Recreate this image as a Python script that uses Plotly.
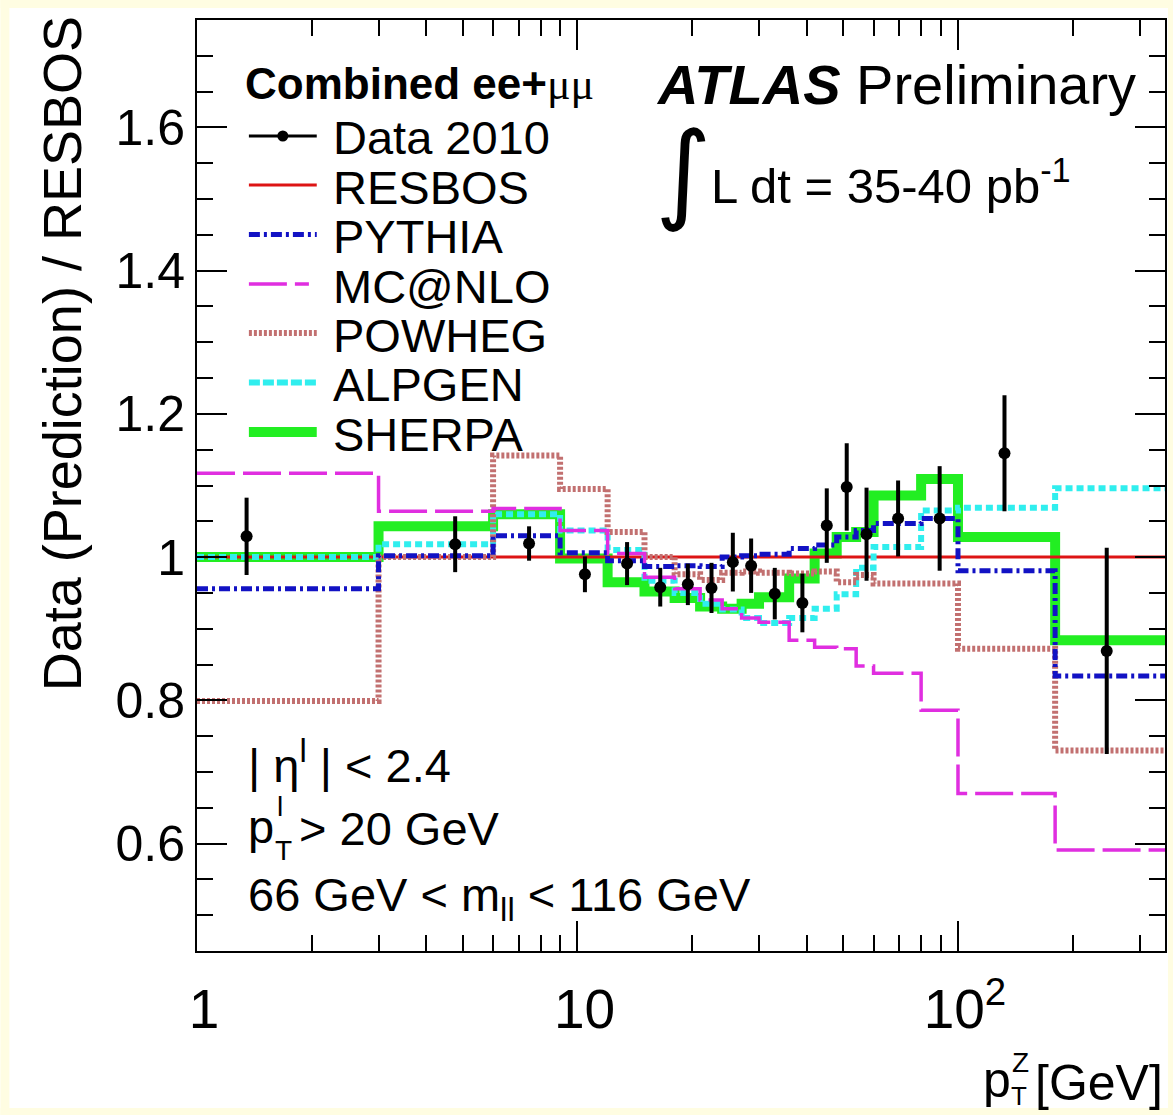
import numpy as np
import plotly.graph_objects as go

# ---------------- data ----------------
bin_edges = [1, 3, 6, 9, 12, 15, 18, 21, 24, 27, 30, 36, 42, 48, 54, 60, 80, 100, 180, 350]

data_x = [1.35, 4.77, 7.46, 10.46, 13.5, 16.5, 19.5, 22.5, 25.6, 28.6, 33, 39, 45.2, 51, 57.5, 69.6, 89.5, 132.5, 246]
data_y = [1.029, 1.018, 1.019, 0.976, 0.991, 0.958, 0.962, 0.957, 0.993, 0.988, 0.949, 0.936, 1.044, 1.098, 1.032, 1.054, 1.054, 1.145, 0.869]
data_err = [0.054, 0.039, 0.024, 0.025, 0.030, 0.027, 0.029, 0.035, 0.041, 0.038, 0.036, 0.041, 0.052, 0.061, 0.065, 0.053, 0.073, 0.081, 0.144]

resbos = [1.0] * 19
pythia = [0.956, 1.002, 1.030, 1.006, 0.995, 0.987, 0.988, 0.987, 1.000, 1.002, 1.004, 1.012, 1.017, 1.028, 1.037, 1.047, 1.054, 0.981, 0.834]
mcatnlo = [1.117, 1.064, 1.068, 1.037, 1.005, 0.972, 0.956, 0.940, 0.928, 0.915, 0.909, 0.884, 0.874, 0.872, 0.848, 0.838, 0.786, 0.670, 0.591]
powheg = [0.799, 1.000, 1.142, 1.095, 1.035, 1.000, 0.976, 0.968, 0.978, 0.980, 0.978, 0.977, 0.980, 0.965, 0.975, 0.963, 0.963, 0.872, 0.730]
alpgen = [1.000, 1.018, 1.060, 1.037, 1.010, 0.967, 0.950, 0.935, 0.927, 0.915, 0.908, 0.915, 0.928, 0.948, 0.985, 1.014, 1.065, 1.069, 1.096]
sherpa = [1.000, 1.043, 1.060, 0.998, 0.965, 0.952, 0.943, 0.931, 0.928, 0.935, 0.944, 0.970, 1.005, 1.028, 1.035, 1.086, 1.109, 1.028, 0.884]

y_tickvals = [0.6, 0.8, 1.0, 1.2, 1.4, 1.6]
y_ticktext = ["0.6", "0.8", "1", "1.2", "1.4", "1.6"]
x_tickvals = [1, 10, 100]
x_ticktext = ["1", "10", "10<sup>2</sup>"]
x_minor = [2, 3, 4, 5, 6, 7, 8, 9, 20, 30, 40, 50, 60, 70, 80, 90, 200, 300]

# ---------------- style ----------------
RED = "#DD1414"
BLUE = "#1212C4"
MAGENTA = "#E02EE0"
BROWN = "#C27070"
CYAN = "#30EEEE"
GREEN = "#22EE22"
FONT = "Liberation Sans"

W, H = 1175, 1115
L, R, T, B = 197, 8, 20, 164
PW = W - L - R
PH = H - T - B


def px(xp):
    return (xp - L) / PW


def py(yp):
    return (T + PH - yp) / PH


def step(vals):
    return list(vals) + [vals[-1]]


fig = go.Figure()

series = [
    ("SHERPA", sherpa, GREEN, 10, "solid"),
    ("RESBOS", resbos, RED, 3, "solid"),
    ("ALPGEN", alpgen, CYAN, 6, "7px,4px"),
    ("POWHEG", powheg, BROWN, 6, "3px,2px"),
    ("MC@NLO", mcatnlo, MAGENTA, 3.5, "38px,8px"),
    ("PYTHIA", pythia, BLUE, 5, "11px,4px,3px,4px"),
]
for name, vals, col, w, dash in series:
    fig.add_trace(go.Scatter(
        x=bin_edges, y=step(vals), mode="lines", line_shape="hv",
        line=dict(color=col, width=w, dash=dash), name=name, hoverinfo="skip"))

fig.add_trace(go.Scatter(
    x=data_x, y=data_y, mode="markers", name="Data 2010",
    marker=dict(color="black", size=12, symbol="circle"),
    error_y=dict(type="data", array=data_err, visible=True, color="black", thickness=4, width=0)))

axis_common = dict(
    showline=True, linecolor="black", linewidth=2, mirror="allticks",
    ticks="inside", ticklen=30, tickwidth=2, tickcolor="black",
    showgrid=False, zeroline=False,
)

fig.update_xaxes(type="log", range=[0, np.log10(350)], tickvals=x_tickvals, ticktext=x_ticktext,
                 tickfont=dict(family=FONT, size=55, color="black"),
                 ticklabelshift=7, ticklabelstandoff=9,
                 minor=dict(ticks="inside", ticklen=16, tickwidth=2, tickcolor="black", tickvals=x_minor,
                            showgrid=False),
                 **axis_common)
fig.update_yaxes(range=[0.45, 1.75], tickvals=y_tickvals, ticktext=y_ticktext,
                 tickfont=dict(family=FONT, size=50, color="black"),
                 minor=dict(ticks="inside", ticklen=16, tickwidth=2, tickcolor="black", dtick=0.05,
                            tick0=0, showgrid=False),
                 **axis_common)

shapes = []
annotations = []

# pale yellow page border
YEL = "#FFFDE2"
for x0, x1, y0, y1 in [(0, W, 0, 8), (0, W, H - 7, H), (0, 9, 0, H), (W - 5, W, 0, H)]:
    shapes.append(dict(type="rect", xref="paper", yref="paper", x0=px(x0), x1=px(x1), y0=py(y1), y1=py(y0),
                       fillcolor=YEL, line=dict(width=0), layer="below"))


def text(s, x, y, size=47, xanchor="left", yanchor="middle", family=FONT):
    annotations.append(dict(text=s, x=px(x), y=py(y), xref="paper", yref="paper", showarrow=False,
                            xanchor=xanchor, yanchor=yanchor,
                            font=dict(family=family, size=size, color="black")))


# legend
lx0, lx1, ltx = 249, 317, 331
leg_rows = [
    ("Data 2010", 136, None),
    ("RESBOS", 185, (RED, 3, "solid")),
    ("PYTHIA", 234.5, (BLUE, 5, "11px,4px,3px,4px")),
    ("MC@NLO", 284, (MAGENTA, 3.5, "38px,8px,14px,8px")),
    ("POWHEG", 333, (BROWN, 6, "3px,2px")),
    ("ALPGEN", 382.5, (CYAN, 6, "11px,3px")),
    ("SHERPA", 432, (GREEN, 10, "solid")),
]
for label, yy, st in leg_rows:
    if st is None:
        shapes.append(dict(type="line", xref="paper", yref="paper", x0=px(lx0), x1=px(lx1), y0=py(yy), y1=py(yy),
                           line=dict(color="black", width=3)))
        shapes.append(dict(type="circle", xref="paper", yref="paper", x0=px(283 - 5.5), x1=px(283 + 5.5),
                           y0=py(yy + 5.5), y1=py(yy - 5.5), fillcolor="black", line=dict(color="black", width=0)))
    else:
        col, w, dash = st
        shapes.append(dict(type="line", xref="paper", yref="paper", x0=px(lx0), x1=px(lx1), y0=py(yy), y1=py(yy),
                           line=dict(color=col, width=w, dash=dash)))
    text(label, ltx, yy + 2, size=47)

text("<b>Combined ee+</b><span style='font-family:Liberation Serif'>μμ</span>", 243, 84, size=44)
text("<b><i>ATLAS</i></b> Preliminary", 655, 84, size=56)
text("∫", 654, 171, size=108, family="DejaVu Sans")
text("L dt = 35-40 pb<sup>-1</sup>", 710, 182, size=49)

# cuts
text("| η<sup>l</sup> | < 2.4", 246, 762, size=47)
text("p", 246, 826, size=47)
text("l", 275, 806, size=28)
text("T", 273, 850, size=28)
text("> 20 GeV", 297, 828, size=47)
text("66 GeV < m<sub>ll</sub> < 116 GeV", 246, 898, size=47)

# axis titles
annotations.append(dict(text="Data (Prediction) / RESBOS", x=px(62), y=py(354), xref="paper", yref="paper",
                        showarrow=False, textangle=-90, xanchor="center", yanchor="middle",
                        font=dict(family=FONT, size=54, color="black")))
text("[GeV]", 1167, 1083, size=50, xanchor="right")
text("p", 983, 1080, size=50)
text("Z", 1012, 1062, size=28)
text("T", 1011, 1096, size=26)

fig.update_layout(width=W, height=H, margin=dict(l=L, r=R, t=T, b=B), paper_bgcolor="white",
                  plot_bgcolor="white", showlegend=False, shapes=shapes, annotations=annotations)

fig.write_html("out.html")
